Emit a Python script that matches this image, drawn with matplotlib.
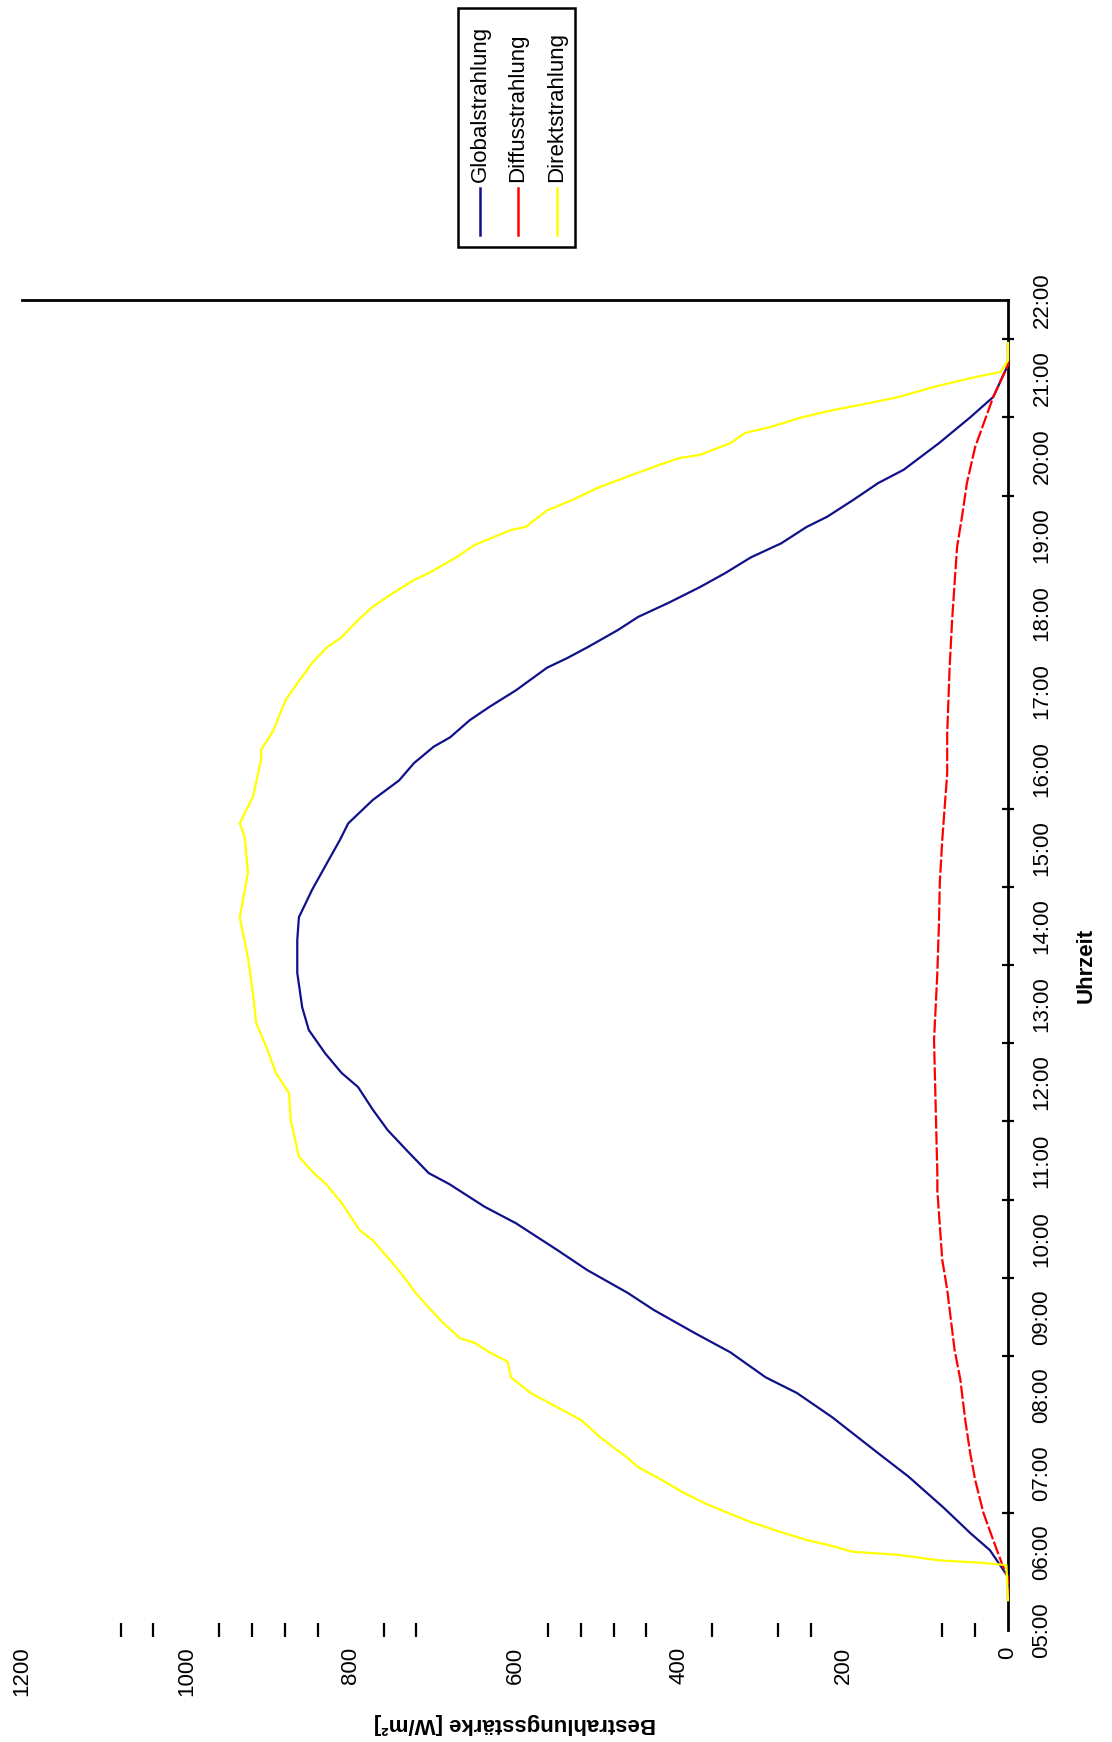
import matplotlib
matplotlib.use("Agg")
import matplotlib.pyplot as plt
from matplotlib.lines import Line2D
from matplotlib.patches import Rectangle

plt.rcParams['font.family'] = ['Liberation Sans', 'DejaVu Sans']

# ---------------- data (time in decimal hours, irradiance in W/m²) ----------------
global_t = [5.38, 5.68, 6.02, 6.24, 6.56, 6.96, 7.26, 7.72, 8.03, 8.23, 8.55, 8.80, 9.09,
            9.31, 9.60, 9.86, 10.20, 10.41, 10.70, 10.84, 11.10, 11.39, 11.65, 11.94,
            12.12, 12.37, 12.67, 12.96, 13.40, 13.82, 14.11, 14.46, 14.80, 15.10, 15.31,
            15.61, 15.86, 16.08, 16.29, 16.41, 16.63, 16.80, 17.01, 17.30, 17.42, 17.56,
            17.78, 17.95, 18.13, 18.33, 18.51, 18.71, 18.89, 19.10, 19.23, 19.44, 19.66,
            19.83, 20.17, 20.50, 20.76, 21.17, 21.45]
global_v = [0, 0, 22, 46, 78, 121, 158, 214, 257, 295, 338, 382, 431,
            463, 512, 549, 599, 637, 680, 705, 729, 755, 773, 791,
            811, 831, 851, 859, 865, 865, 863, 847, 829, 813, 803,
            773, 741, 723, 699, 679, 655, 631, 599, 561, 537, 512,
            475, 450, 413, 375, 344, 313, 276, 245, 220, 189, 158,
            127, 84, 46, 18, 0, 0]

diffus_t = [5.38, 5.68, 5.81, 6.15, 6.50, 6.92, 7.26, 7.68, 8.20, 8.58, 9.35, 9.73, 10.62,
            10.84, 11.68, 12.54, 13.40, 14.04, 14.55, 15.10, 15.95, 16.46, 17.31, 17.91,
            18.38, 18.84, 19.23, 19.66, 20.12, 20.76, 21.17, 21.45]
diffus_v = [0, 0, 6, 18, 30, 40, 46, 52, 58, 65, 74, 80, 86,
            86, 88, 90, 86, 84, 83, 80, 74, 74, 71, 68,
            65, 62, 56, 50, 40, 18, 0, 0]

direkt_t = [5.38, 5.83, 5.86, 5.89, 5.96, 6.00, 6.09, 6.15, 6.25, 6.38, 6.51, 6.62, 6.75,
            6.94, 7.08, 7.20, 7.34, 7.47, 7.68, 7.85, 8.03, 8.23, 8.43, 8.55, 8.67, 8.73,
            8.92, 9.12, 9.31, 9.51, 9.69, 9.98, 10.11, 10.46, 10.70, 10.84, 11.05, 11.52,
            11.86, 12.12, 12.41, 12.76, 13.14, 13.60, 14.11, 14.68, 15.14, 15.31, 15.65,
            16.12, 16.25, 16.38, 16.50, 16.89, 17.10, 17.36, 17.56, 17.69, 17.91, 18.08,
            18.25, 18.42, 18.51, 18.70, 18.87, 19.06, 19.10, 19.31, 19.44, 19.60, 19.72,
            19.89, 19.98, 20.02, 20.17, 20.30, 20.38, 20.50, 20.59, 20.68, 20.76, 20.89,
            21.00, 21.04, 21.08, 21.23, 21.45]
direkt_v = [0, 2, 34, 84, 133, 189, 220, 245, 276, 313, 344, 369, 394,
            425, 450, 463, 481, 497, 519, 549, 581, 605, 609, 631, 649, 667,
            687, 705, 721, 735, 749, 773, 789, 811, 830, 845, 863, 873,
            875, 891, 901, 915, 919, 925, 935, 925, 929, 935, 919,
            909, 909, 901, 894, 879, 865, 847, 829, 811, 791, 773,
            749, 723, 705, 673, 649, 605, 587, 561, 531, 499, 469,
            425, 400, 375, 338, 320, 288, 251, 214, 170, 133, 90,
            46, 28, 9, 0, 0]

series_names = ["Globalstrahlung", "Diffusstrahlung", "Direktstrahlung"]
series_colors = ["#10108a", "#ff0000", "#ffff00"]
series_styles = ["-", (0, (6, 1.2)), "-"]

time_labels = ["05:00", "06:00", "07:00", "08:00", "09:00", "10:00", "11:00", "12:00",
               "13:00", "14:00", "15:00", "16:00", "17:00", "18:00", "19:00", "20:00",
               "21:00", "22:00"]
time_label_hours = list(range(5, 23))
time_tick_marks = [6.0, 6.5, 8.0, 8.5, 9.0, 9.5, 10.0, 10.5, 11.0, 11.5, 12.0, 12.5, 13.0,
                   13.5, 14.0, 14.5, 15.0, 15.5, 16.0, 19.5, 20.0, 20.5, 21.5]

irr_labels = [0, 200, 400, 600, 800, 1000, 1200]
irr_tick_marks = [40, 80, 240, 280, 360, 400, 440, 480, 520, 560, 600, 720, 760, 800,
                  840, 880, 920, 960, 1000, 1040, 1080]

x_title = "Bestrahlungsstärke [W/m²]"
t_title = "Uhrzeit"

# ---------------- figure ----------------
W, H = 1112, 1742
fig = plt.figure(figsize=(W / 100, H / 100), dpi=100)
fig.patch.set_facecolor("white")

ax_l, ax_r, ax_t, ax_b = 22, 1008, 300, 1630
ax = fig.add_axes([ax_l / W, 1 - ax_b / H, (ax_r - ax_l) / W, (ax_b - ax_t) / H])
ax.set_xlim(1200, 0)
ax.set_ylim(5, 22)

data = [(global_v, global_t), (diffus_v, diffus_t), (direkt_v, direkt_t)]
for (v, t), c, ls in zip(data, series_colors, series_styles):
    ax.plot(v, t, color=c, lw=1.6, ls=ls, zorder=3, clip_on=False)

for s in ["left", "bottom"]:
    ax.spines[s].set_visible(False)
for s in ["top", "right"]:
    ax.spines[s].set_linewidth(2.0)
    ax.spines[s].set_color("black")

# time axis (right)
ax.yaxis.tick_right()
ax.set_yticks(time_label_hours)
ax.set_yticklabels(time_labels, rotation=90, va="center", ha="left", fontsize=16)
ax.set_yticks(time_tick_marks, minor=True)
ax.tick_params(axis="y", which="major", length=0, pad=17)
ax.tick_params(axis="y", which="minor", length=9, width=1.6, direction="inout",
               right=True, left=False)

# irradiance axis (bottom)
ax.set_xticks(irr_labels)
ax.set_xticklabels([str(v) for v in irr_labels], rotation=90, ha="center", va="top",
                   fontsize=16)
ax.set_xticks(irr_tick_marks, minor=True)
ax.tick_params(axis="x", which="major", length=0, pad=12)
ax.tick_params(axis="x", which="minor", length=10, width=1.6, direction="inout",
               bottom=True, top=False)

ax.set_xlabel(x_title, rotation=180, fontsize=16, fontweight="bold",
              ha="center", va="center")
ax.xaxis.set_label_coords(0.5, -(1723 - ax_b) / (ax_b - ax_t))
ax.yaxis.set_label_position("right")
ax.set_ylabel(t_title, rotation=90, fontsize=16, fontweight="bold",
              ha="center", va="center")
ax.yaxis.set_label_coords((1086 - ax_l) / (ax_r - ax_l), 0.5)

# ---------------- rotated legend ----------------
lx0, lx1, ly0, ly1 = 458, 575, 8, 247
fig.patches.append(Rectangle((lx0 / W, 1 - ly1 / H), (lx1 - lx0) / W, (ly1 - ly0) / H,
                             transform=fig.transFigure, fill=False, edgecolor="black",
                             lw=1.8))
entry_x = [480, 518, 557]
for x, name, c in zip(entry_x, series_names, series_colors):
    fig.lines.append(Line2D([x / W, x / W], [1 - 235 / H, 1 - 188 / H],
                            transform=fig.transFigure, color=c, lw=1.8))
    fig.text(x / W, 1 - 182 / H, name, rotation=90, ha="center", va="bottom",
             fontsize=16)

fig.savefig("out.png", dpi=100, facecolor="white")
